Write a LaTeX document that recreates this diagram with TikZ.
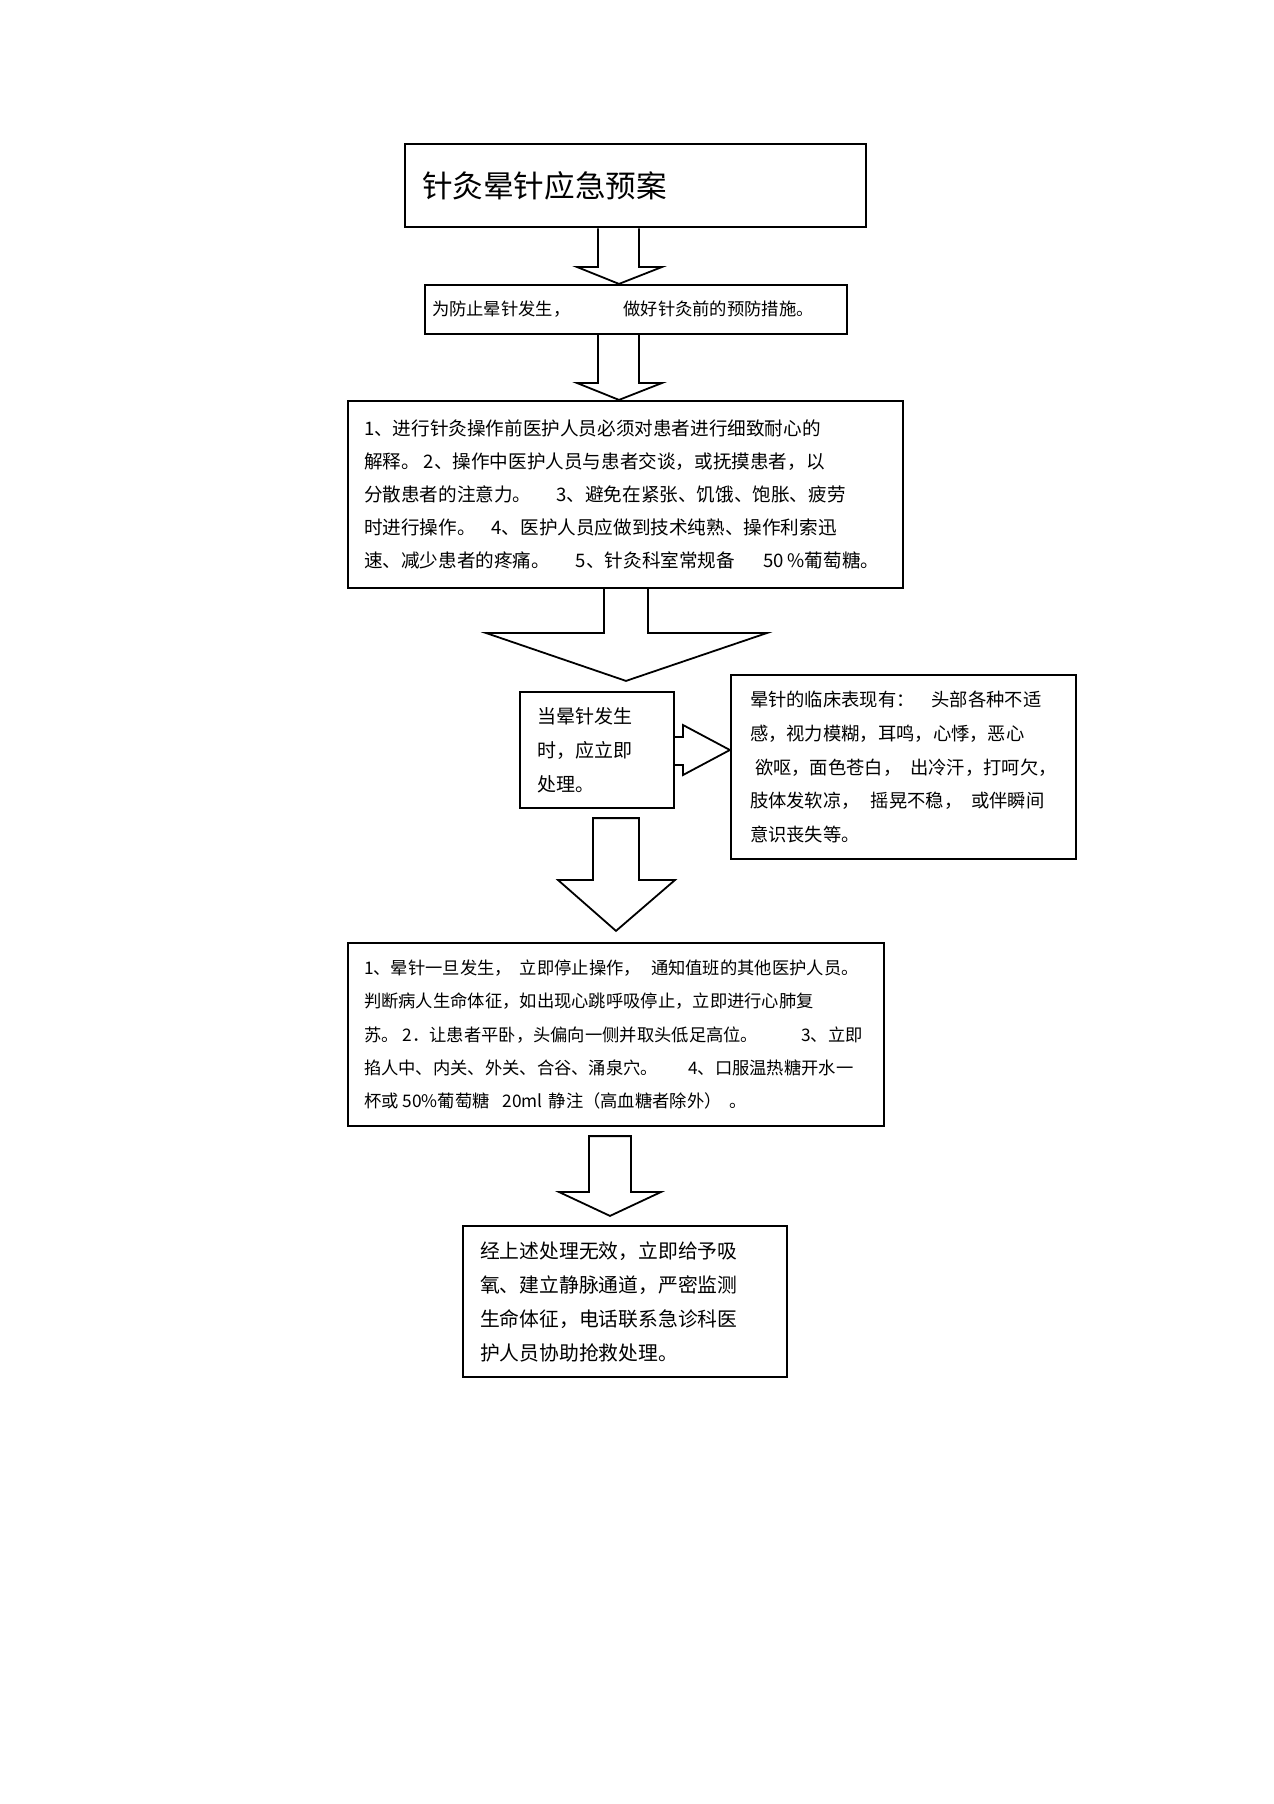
\documentclass[tikz,border=0pt]{standalone}
\usepackage{fontspec}
\setmainfont{Noto Sans CJK SC}
\usetikzlibrary{calc}
\begin{document}
\begin{tikzpicture}[x=1pt,y=-1pt,
  box/.style={draw=black, line width=2.2pt, fill=white, inner ysep=0pt, align=left},
  blk/.style={draw=black, line width=1.8pt, line join=miter},
  blkc/.style={draw=black, line width=1.8pt, line join=miter, fill=white}]
\useasboundingbox (0,0) rectangle (1274,1804);
\fill[white] (0,0) rectangle (1274,1804);

% boxes
\node[box, line width=2.6pt, minimum width=461pt, minimum height=83pt, text width=427pt, inner xsep=17pt,
  font={\fontsize{30.6}{36}\selectfont}] (t) at (635.5,185.5) {针灸晕针应急预案};

\node[box, minimum width=422pt, minimum height=49pt, text width=408pt, inner xsep=7pt,
  font={\fontsize{17.3}{33}\selectfont}] (b2) at (636,309.5) {为防止晕针发生，\kern53pt 做好针灸前的预防措施。};

\node[box, minimum width=555pt, minimum height=187pt, text width=523pt, inner xsep=16pt,
  font={\fontsize{18.6}{33}\selectfont}] (b3) at (625.5,494.5) {1、进行针灸操作前医护人员必须对患者进行细致耐心的\\
解释。\kern4pt 2、操作中医护人员与患者交谈，或抚摸患者，以\\
分散患者的注意力。\kern25pt 3、避免在紧张、饥饿、饱胀、疲劳\\
时进行操作。\kern16pt 4、医护人员应做到技术纯熟、操作利索迅\\
速、减少患者的疼痛。\kern26pt 5、针灸科室常规备\kern28pt 50\kern4pt\%葡萄糖。};

\node[box, minimum width=154pt, minimum height=116pt, text width=120pt, inner xsep=17pt,
  font={\fontsize{19}{34}\selectfont}] (b4) at (597,750) {当晕针发生\\时，应立即\\处理。};

\node[box, minimum width=345pt, minimum height=184pt, text width=307pt, inner xsep=19pt,
  font={\fontsize{18.3}{33.8}\selectfont}] (b5) at (903.5,767) {晕针的临床表现有：\kern17pt 头部各种不适\\
感，视力模糊，耳鸣，心悸，恶心\\
\hspace*{5pt}欲呕，面色苍白，\kern9pt 出冷汗，打呵欠，\\
肢体发软凉，\kern11pt 摇晃不稳，\kern9pt 或伴瞬间\\
意识丧失等。};

\node[box, minimum width=536pt, minimum height=183pt, text width=504pt, inner xsep=16pt,
  font={\fontsize{17.3}{33.3}\selectfont}] (b6) at (616,1034.5) {1、晕针一旦发生，\kern8pt 立即停止操作，\kern10pt 通知值班的其他医护人员。\\
判断病人生命体征，如出现心跳呼吸停止，立即进行心肺复\\
苏。\kern4pt 2．让患者平卧，头偏向一侧并取头低足高位。\kern43pt 3、立即\\
掐人中、内关、外关、合谷、涌泉穴。\kern30pt 4、口服温热糖开水一\\
杯或\kern4pt 50\%葡萄糖\kern13pt 20ml\kern6pt 静注（高血糖者除外）\kern8pt 。};

\node[box, minimum width=324pt, minimum height=151pt, text width=290pt, inner xsep=17pt,
  font={\fontsize{19.8}{34}\selectfont}] (b7) at (625,1301.5) {经上述处理无效，立即给予吸\\
氧、建立静脉通道，严密监测\\
生命体征，电话联系急诊科医\\
护人员协助抢救处理。};

% arrow reference coordinates (wing level centres)
\coordinate (a1) at (619,267);
\coordinate (a2) at (619,383);
\coordinate (a3) at (626,633);
\coordinate (a4) at (683,750);
\coordinate (a5) at (616,880);
\coordinate (a6) at (610,1192);

% arrow 1
\draw[blk] ($(t.south -| a1)+(-21,0)$) -- ($(a1)+(-21,0)$) -- ($(a1)+(-42,0)$) -- (b2.north -| a1)
  -- ($(a1)+(43,0)$) -- ($(a1)+(20,0)$) -- ($(t.south -| a1)+(20,0)$);
% arrow 2
\draw[blk] ($(b2.south -| a2)+(-21,0)$) -- ($(a2)+(-21,0)$) -- ($(a2)+(-42,0)$) -- (b3.north -| a2)
  -- ($(a2)+(43,0)$) -- ($(a2)+(20,0)$) -- ($(b2.south -| a2)+(20,0)$);
% arrow 3
\draw[blk] ($(b3.south -| a3)+(-22,0)$) -- ($(a3)+(-22,0)$) -- ($(a3)+(-140,0)$) -- ($(b4.north -| a3)+(0,-10)$)
  -- ($(a3)+(141,0)$) -- ($(a3)+(22,0)$) -- ($(b3.south -| a3)+(22,0)$);
% arrow 4 (to the right)
\draw[blk] ($(b4.east |- a4)+(0,-13)$) -- ($(a4)+(0,-13)$) -- ($(a4)+(0,-25)$) -- (b5.west |- a4)
  -- ($(a4)+(0,25)$) -- ($(a4)+(0,15)$) -- ($(b4.east |- a4)+(0,15)$);
% arrow 5
\draw[blkc] ($(b4.south -| a5)+(-23,9)$) -- ($(a5)+(-23,0)$) -- ($(a5)+(-58,0)$) -- ($(b6.north -| a5)+(0,-11)$)
  -- ($(a5)+(59,0)$) -- ($(a5)+(23,0)$) -- ($(b4.south -| a5)+(23,9)$) -- cycle;
% arrow 6
\draw[blkc] ($(b6.south -| a6)+(-21,9)$) -- ($(a6)+(-21,0)$) -- ($(a6)+(-51,0)$) -- ($(b7.north -| a6)+(0,-9)$)
  -- ($(a6)+(51,0)$) -- ($(a6)+(21,0)$) -- ($(b6.south -| a6)+(21,9)$) -- cycle;
\end{tikzpicture}
\end{document}
